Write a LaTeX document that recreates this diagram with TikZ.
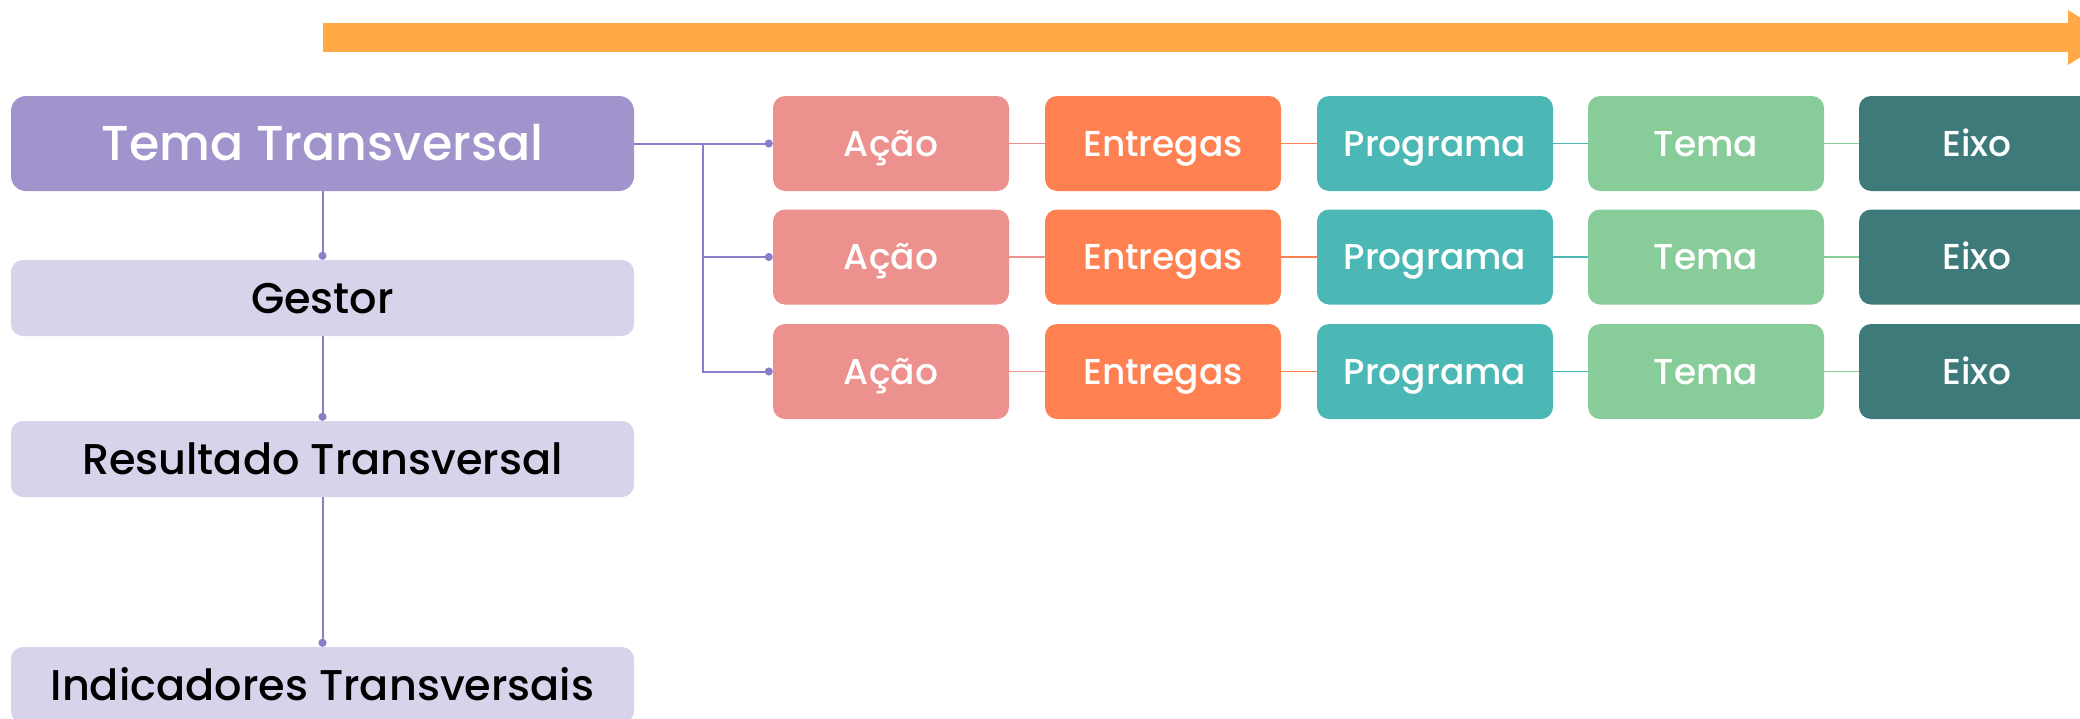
\documentclass[tikz,border=0pt]{standalone}
\usepackage{fontspec}
\setmainfont{Poppins Medium}
\usetikzlibrary{arrows.meta}
\definecolor{ttpurple}{HTML}{A193CB}
\definecolor{lightlav}{HTML}{D8D2EA}
\definecolor{linepurple}{HTML}{8B7EC8}
\definecolor{acaoc}{HTML}{EC918E}
\definecolor{entc}{HTML}{FF8050}
\definecolor{progc}{HTML}{4BB8B5}
\definecolor{temac}{HTML}{88CD99}
\definecolor{eixoc}{HTML}{3F7A7A}
\definecolor{arrowc}{HTML}{FFAA44}
\begin{document}
\begin{tikzpicture}[x=1pt,y=-1pt,
  rowbox/.style={rounded corners=12pt, inner sep=0pt, minimum width=236pt, minimum height=95pt, text=white, font=\fontsize{36}{40}\selectfont, text height=25.5pt, text depth=0pt},
  lavbox/.style={fill=lightlav, rounded corners=12pt, inner sep=0pt, minimum width=623pt, minimum height=76pt, text=black, font=\fontsize{43}{48}\selectfont, text height=30.3pt, text depth=0pt},
  ttbox/.style={fill=ttpurple, rounded corners=15pt, inner sep=0pt, minimum width=623pt, minimum height=95pt, text=white, font=\fontsize{49}{54}\selectfont, text height=34.5pt, text depth=0pt},
  pconn/.style={draw=linepurple, line width=2pt, -{Circle[length=8pt,width=8pt]}},
  rconn/.style={line width=1.8pt}
]
\clip (0,0) rectangle (2080,718);
\useasboundingbox (0,0) rectangle (2080,718);
% progress arrow
\fill[arrowc] (323,23) rectangle (2068,52);
\fill[arrowc] (2068,10) -- (2112,37.5) -- (2068,65) -- cycle;
% left column
\node[ttbox] (tt) at (322.5,143.5) {Tema Transversal};
\node[lavbox] (gestor) at (322.5,298) {Gestor};
\node[lavbox] (res) at (322.5,459) {Resultado Transversal};
\node[lavbox] (ind) at (322.5,685) {Indicadores Transversais};
\draw[pconn] (tt.south) -- (gestor.north);
\draw[pconn] (gestor.south) -- (res.north);
\draw[pconn] (res.south) -- (ind.north);
% rows
\foreach \r/\y in {1/143.5,2/257,3/371.5}{
  \node[rowbox, fill=acaoc] (a\r) at (891,\y) {Ação};
  \node[rowbox, fill=entc] (e\r) at (1163,\y) {Entregas};
  \node[rowbox, fill=progc] (p\r) at (1435,\y) {Programa};
  \node[rowbox, fill=temac] (t\r) at (1706,\y) {Tema};
  \node[rowbox, fill=eixoc] (x\r) at (1977,\y) {Eixo};
  \draw[rconn, acaoc] (a\r.east) -- (e\r.west);
  \draw[rconn, entc] (e\r.east) -- (p\r.west);
  \draw[rconn, progc] (p\r.east) -- (t\r.west);
  \draw[rconn, temac] (t\r.east) -- (x\r.west);
}
% branches
\coordinate (br) at (703,143.5);
\draw[pconn] (tt.east) -- (a1.west);
\draw[pconn] (br) |- (a2.west);
\draw[pconn] (br) |- (a3.west);
\end{tikzpicture}
\end{document}
